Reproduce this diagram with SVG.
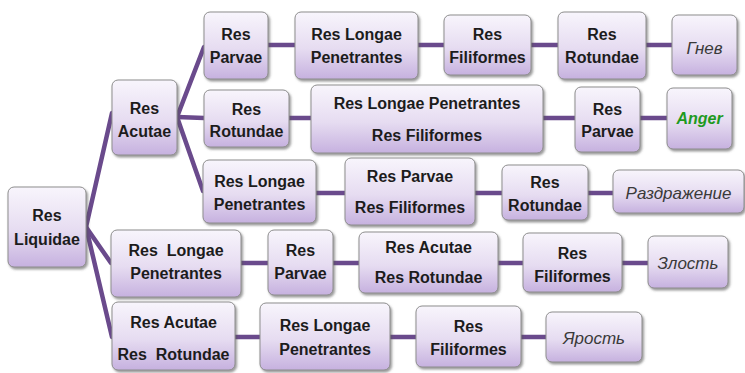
<svg xmlns="http://www.w3.org/2000/svg" width="745" height="373" viewBox="0 0 745 373">
<defs>
<linearGradient id="g" x1="0" y1="0" x2="0" y2="1">
<stop offset="0" stop-color="#f8f5fc"/>
<stop offset="0.55" stop-color="#e6dcf1"/>
<stop offset="1" stop-color="#c6b1df"/>
</linearGradient>
<filter id="sh" x="-10%" y="-10%" width="125%" height="130%">
<feDropShadow dx="1.5" dy="2" stdDeviation="1.2" flood-color="#555" flood-opacity="0.6"/>
</filter>
</defs>
<style>
.b{fill:url(#g);stroke:#8d8d8d;stroke-width:1;filter:url(#sh)}
.t{font-family:"Liberation Sans",Arial,sans-serif;font-weight:bold;font-size:16px;fill:#1c1c1c;text-anchor:middle}
.r{font-family:"Liberation Sans",Arial,sans-serif;font-style:italic;font-size:17px;fill:#3a3a3a;text-anchor:middle}
.a{font-family:"Liberation Sans",Arial,sans-serif;font-style:italic;font-weight:bold;font-size:16px;fill:#1e9a1e;text-anchor:middle}
.c line{stroke:#6a4a8c;stroke-width:4.5;stroke-linecap:round}
</style>
<g class="c" id="connectors">
<line x1="86" y1="227" x2="112" y2="113"/>
<line x1="86" y1="227" x2="111" y2="263"/>
<line x1="86" y1="227" x2="112" y2="337"/>
<line x1="177" y1="117" x2="204" y2="47"/>
<line x1="177" y1="117" x2="204" y2="118"/>
<line x1="177" y1="117" x2="203" y2="191"/>
<line x1="268" y1="45" x2="295" y2="45"/>
<line x1="418" y1="45" x2="444" y2="45"/>
<line x1="531" y1="45" x2="558" y2="45"/>
<line x1="646" y1="45" x2="672" y2="45"/>
<line x1="289" y1="118" x2="311" y2="118"/>
<line x1="543" y1="118" x2="575" y2="118"/>
<line x1="640" y1="118" x2="667" y2="118"/>
<line x1="316" y1="193" x2="345" y2="193"/>
<line x1="475" y1="193" x2="502" y2="193"/>
<line x1="588" y1="193" x2="613" y2="193"/>
<line x1="241" y1="263" x2="268" y2="263"/>
<line x1="333" y1="263" x2="359" y2="263"/>
<line x1="498" y1="263" x2="523" y2="263"/>
<line x1="622" y1="263" x2="648" y2="263"/>
<line x1="235" y1="337" x2="260" y2="337"/>
<line x1="390" y1="337" x2="416" y2="337"/>
<line x1="521" y1="337" x2="546" y2="337"/>
</g>
<g id="n-p1"><rect class="b" x="204" y="12" width="64" height="67" rx="6"/><text class="t" x="236" y="40">Res</text><text class="t" x="236" y="63">Parvae</text></g>
<g id="n-l1"><rect class="b" x="295" y="12" width="123" height="67" rx="6"/><text class="t" x="356.5" y="40">Res Longae</text><text class="t" x="356.5" y="63">Penetrantes</text></g>
<g id="n-f1"><rect class="b" x="444" y="15" width="87" height="60" rx="6"/><text class="t" x="487.5" y="40">Res</text><text class="t" x="487.5" y="63">Filiformes</text></g>
<g id="n-r1"><rect class="b" x="558" y="12" width="88" height="67" rx="6"/><text class="t" x="602" y="40">Res</text><text class="t" x="602" y="63">Rotundae</text></g>
<g id="n-g1"><rect class="b" x="672" y="15" width="65" height="60" rx="6"/><text class="r" x="704.5" y="54">Гнев</text></g>
<g id="n-acutae"><rect class="b" x="112" y="80" width="65" height="75" rx="6"/><text class="t" x="144.5" y="114">Res</text><text class="t" x="144.5" y="137">Acutae</text></g>
<g id="n-r2"><rect class="b" x="204" y="90" width="85" height="57" rx="6"/><text class="t" x="246.5" y="115">Res</text><text class="t" x="246.5" y="137">Rotundae</text></g>
<g id="n-lf2"><rect class="b" x="311" y="85" width="232" height="68" rx="6"/><text class="t" x="427" y="109">Res Longae Penetrantes</text><text class="t" x="427" y="141">Res Filiformes</text></g>
<g id="n-p2"><rect class="b" x="575" y="87" width="65" height="65" rx="6"/><text class="t" x="607.5" y="115">Res</text><text class="t" x="607.5" y="137">Parvae</text></g>
<g id="n-anger"><rect class="b" x="667" y="88" width="65" height="61" rx="6"/><text class="a" x="699.5" y="124">Anger</text></g>
<g id="n-l3"><rect class="b" x="203" y="160" width="113" height="63" rx="6"/><text class="t" x="259.5" y="187">Res Longae</text><text class="t" x="259.5" y="210">Penetrantes</text></g>
<g id="n-pf3"><rect class="b" x="345" y="158" width="130" height="67" rx="6"/><text class="t" x="410" y="182">Res Parvae</text><text class="t" x="410" y="213">Res Filiformes</text></g>
<g id="n-r3"><rect class="b" x="502" y="165" width="86" height="55" rx="6"/><text class="t" x="545" y="188">Res</text><text class="t" x="545" y="211">Rotundae</text></g>
<g id="n-rz3"><rect class="b" x="613" y="170" width="131" height="43" rx="6"/><text class="r" x="678.5" y="199">Раздражение</text></g>
<g id="n-liquidae"><rect class="b" x="8" y="187" width="78" height="80" rx="6"/><text class="t" x="47" y="221">Res</text><text class="t" x="47" y="245">Liquidae</text></g>
<g id="n-l4"><rect class="b" x="111" y="230" width="130" height="67" rx="6"/><text class="t" x="176" y="256" xml:space="preserve">Res  Longae</text><text class="t" x="176" y="279">Penetrantes</text></g>
<g id="n-p4"><rect class="b" x="268" y="230" width="65" height="65" rx="6"/><text class="t" x="300.5" y="256">Res</text><text class="t" x="300.5" y="279">Parvae</text></g>
<g id="n-ar4"><rect class="b" x="359" y="232" width="139" height="61" rx="6"/><text class="t" x="428.5" y="253">Res Acutae</text><text class="t" x="428.5" y="283">Res Rotundae</text></g>
<g id="n-f4"><rect class="b" x="523" y="233" width="99" height="59" rx="6"/><text class="t" x="572.5" y="259">Res</text><text class="t" x="572.5" y="282">Filiformes</text></g>
<g id="n-z4"><rect class="b" x="648" y="236" width="80" height="52" rx="6"/><text class="r" x="688" y="269">Злость</text></g>
<g id="n-ar5"><rect class="b" x="112" y="302" width="123" height="68" rx="6"/><text class="t" x="173.5" y="328">Res Acutae</text><text class="t" x="173.5" y="360" xml:space="preserve">Res  Rotundae</text></g>
<g id="n-l5"><rect class="b" x="260" y="303" width="130" height="67" rx="6"/><text class="t" x="325" y="331">Res Longae</text><text class="t" x="325" y="355">Penetrantes</text></g>
<g id="n-f5"><rect class="b" x="416" y="306" width="105" height="61" rx="6"/><text class="t" x="468.5" y="332">Res</text><text class="t" x="468.5" y="355">Filiformes</text></g>
<g id="n-y5"><rect class="b" x="546" y="312" width="96" height="50" rx="6"/><text class="r" x="594" y="344">Ярость</text></g>
</svg>
